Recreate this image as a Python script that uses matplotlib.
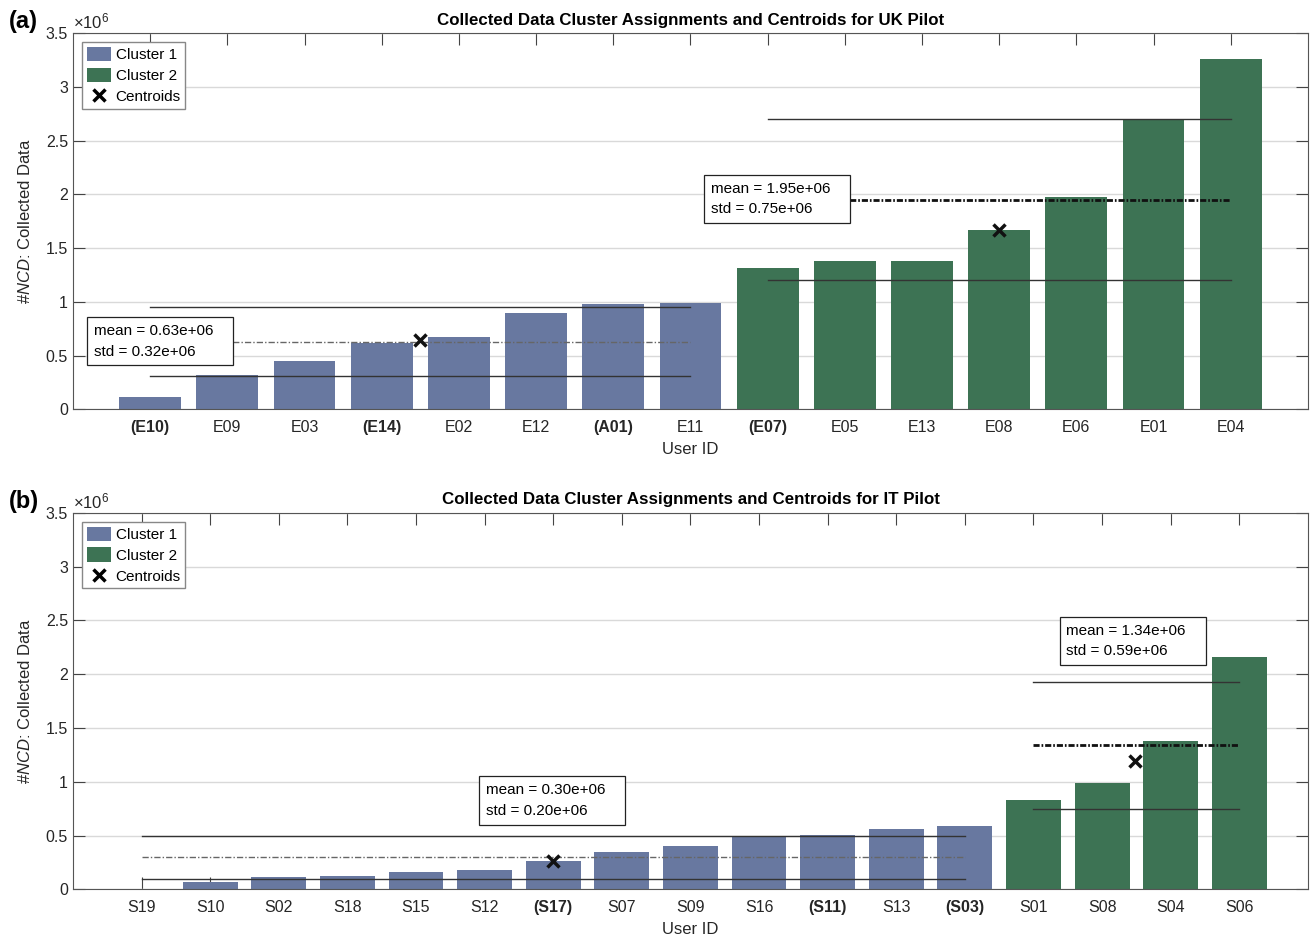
import matplotlib
matplotlib.use("Agg")
import matplotlib.pyplot as plt
from matplotlib.patches import Patch
from matplotlib.lines import Line2D
from matplotlib.ticker import FuncFormatter, MultipleLocator

plt.rcParams['font.family'] = ['Liberation Sans', 'DejaVu Sans']
plt.rcParams['mathtext.fontset'] = 'custom'
plt.rcParams['mathtext.rm'] = 'Liberation Sans'
plt.rcParams['mathtext.it'] = 'Liberation Sans:italic'

# UK pilot
uk_users = ["(E10)", "E09", "E03", "(E14)", "E02", "E12", "(A01)", "E11",
            "(E07)", "E05", "E13", "E08", "E06", "E01", "E04"]
uk_ncd = [117000, 320000, 452000, 620000, 675000, 896000, 980000, 990000,
          1314000, 1380000, 1380000, 1668000, 1975000, 2690000, 3260000]
uk_cluster = [1, 1, 1, 1, 1, 1, 1, 1, 2, 2, 2, 2, 2, 2, 2]
uk_mean = [0.63e6, 1.95e6]
uk_std = [0.32e6, 0.75e6]
uk_centroid_x = [4.5, 12]
uk_centroid_y = [0.64e6, 1.665e6]

# IT pilot
it_users = ["S19", "S10", "S02", "S18", "S15", "S12", "(S17)", "S07", "S09",
            "S16", "(S11)", "S13", "(S03)", "S01", "S08", "S04", "S06"]
it_ncd = [5000, 68000, 114000, 124000, 161000, 180000, 266000, 347000, 403000,
          490000, 505000, 561000, 589000, 831000, 989000, 1380000, 2161000]
it_cluster = [1, 1, 1, 1, 1, 1, 1, 1, 1, 1, 1, 1, 1, 2, 2, 2, 2]
it_mean = [0.30e6, 1.34e6]
it_std = [0.20e6, 0.59e6]
it_centroid_x = [7, 15.48]
it_centroid_y = [0.265e6, 1.19e6]

colors = {1: '#6878a0', 2: '#3d7354'}
mean_style = {1: dict(color='#666666', lw=1.0, ls=(0, (4.5, 1.5, 1, 1.5))),
              2: dict(color='#111111', lw=2.0, ls=(0, (2.2, 0.7, 0.6, 0.7)))}


def draw_panel(ax, users, ncd, cluster, means, stds, cx, cy, boxes, title, tag):
    n = len(users)
    pos = list(range(1, n + 1))
    ax.bar(pos, ncd, width=0.8, color=[colors[c] for c in cluster], zorder=2)

    for k in (1, 2):
        idx = [p for p, c in zip(pos, cluster) if c == k]
        x0, x1 = idx[0], idx[-1]
        m, s = means[k - 1], stds[k - 1]
        ax.plot([x0, x1], [m + s, m + s], color='#333333', lw=1, zorder=3)
        ax.plot([x0, x1], [m - s, m - s], color='#333333', lw=1, zorder=3)
        ax.plot([x0, x1], [m, m], zorder=3, **mean_style[k])
        bx, by = boxes[k - 1]
        ax.text(bx, by, f"mean = {m / 1e6:.2f}e+06   \nstd = {s / 1e6:.2f}e+06",
                ha='left', va='top', fontsize=11, linespacing=1.6, zorder=5,
                bbox=dict(boxstyle='square,pad=0.45', fc='white', ec='#222222', lw=0.9))

    ax.plot(cx, cy, 'x', color='#111111', ms=9, mew=2.5, zorder=4)

    ax.set_xlim(0, n + 1)
    ax.set_ylim(0, 3.5e6)
    ax.set_xticks(pos)
    ax.set_xticklabels(users, fontsize=11.5)
    for lab in ax.get_xticklabels():
        if lab.get_text().startswith('('):
            lab.set_fontweight('bold')
    ax.yaxis.set_major_locator(MultipleLocator(0.5e6))
    ax.yaxis.set_major_formatter(FuncFormatter(lambda v, p: f"{v / 1e6:g}"))
    ax.tick_params(direction='in', length=8.5, top=True, right=True,
                   labelsize=11.5, color='#444444', labelcolor='#262626')
    ax.tick_params(axis='x', pad=8)
    ax.grid(axis='y', color='#d9d9d9', lw=1)
    ax.set_axisbelow(True)
    for sp in ax.spines.values():
        sp.set_color('#555555')
    ax.set_xlabel('User ID', fontsize=12, color='#262626', labelpad=5)
    ax.set_ylabel(r'#$\mathit{NCD}$: Collected Data', fontsize=12, color='#262626', labelpad=9)
    ax.set_title(title, fontsize=12.2, fontweight='bold', pad=6)
    ax.text(0, 1.004, r'$\times10^{6}$', transform=ax.transAxes, fontsize=12,
            ha='left', va='bottom', color='#262626')
    ax.text(-0.052, 1.03, tag, transform=ax.transAxes, fontsize=17,
            fontweight='bold', ha='left', va='center')

    handles = [Patch(fc=colors[1], label='Cluster 1'),
               Patch(fc=colors[2], label='Cluster 2'),
               Line2D([], [], ls='none', marker='x', color='black', ms=9, mew=2.5,
                      label='Centroids')]
    leg = ax.legend(handles=handles, loc='upper left', fontsize=11, fancybox=False,
                    edgecolor='#888888', framealpha=1, borderaxespad=0.6,
                    borderpad=0.3, labelspacing=0.35, handlelength=1.6,
                    handleheight=1.1, handletextpad=0.3)
    leg.get_frame().set_linewidth(1)
    leg.set_zorder(6)


fig = plt.figure(figsize=(13.12, 9.40), dpi=100)
ax1 = fig.add_axes([0.0556, 0.5646, 0.9413, 0.4003])
ax2 = fig.add_axes([0.0556, 0.0539, 0.9413, 0.4006])

draw_panel(ax1, uk_users, uk_ncd, uk_cluster, uk_mean, uk_std,
           uk_centroid_x, uk_centroid_y, [(0.27, 0.793e6), (8.26, 2.118e6)],
           'Collected Data Cluster Assignments and Centroids for UK Pilot', '(a)')
draw_panel(ax2, it_users, it_ncd, it_cluster, it_mean, it_std,
           it_centroid_x, it_centroid_y, [(6.02, 0.988e6), (14.48, 2.468e6)],
           'Collected Data Cluster Assignments and Centroids for IT Pilot', '(b)')

fig.savefig('out.png', dpi=100)
